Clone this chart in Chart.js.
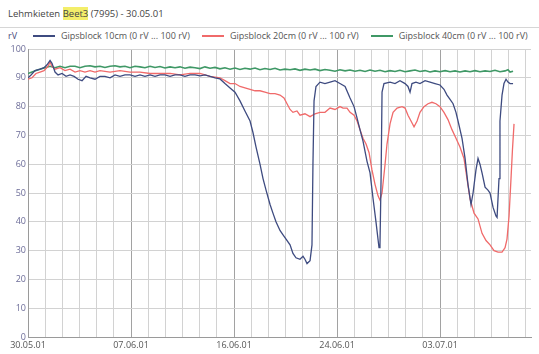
<!DOCTYPE html>
<html>
<head>
<meta charset="utf-8">
<script src="https://cdn.jsdelivr.net/npm/chart.js@4/dist/chart.umd.min.js"></script>
<style>
  html, body { margin: 0; padding: 0; background: #fff; }
  body { width: 539px; height: 354px; position: relative; overflow: hidden; font-family: "Open Sans", "Liberation Sans", sans-serif; }
  #title { position: absolute; left: 8px; top: 7px; font-size: 9.5px; color: #444; white-space: nowrap; }
  #title .hl { background: #f3ee6a; }
  #sep { position: absolute; left: 0; top: 27px; width: 539px; height: 1px; background: #d6d6d6; }
  #unit { position: absolute; left: 8px; top: 29px; font-size: 9px; color: #4a4a7a; }
  #legend { position: absolute; left: 33px; top: 29px; display: flex; font-size: 9px; color: #555; white-space: nowrap; }
  #legend .item { display: flex; align-items: center; margin-right: 12px; }
  #legend .sw { display: inline-block; width: 22px; height: 2px; margin-right: 6px; }
  #wrap { position: absolute; left: 0; top: 0; width: 539px; height: 354px; }
</style>
</head>
<body>
<div id="title">Lehmkieten <span class="hl">Beet3</span> (7995) - 30.05.01</div>
<div id="sep"></div>
<div id="unit">rV</div>
<div id="legend"></div>
<div id="wrap"><canvas id="c" width="539" height="354"></canvas></div>
<script>
// ---- data (x in days since 30.05.01 00:00, values in rV) ----
const seriesNames = ['Gipsblock 10cm (0 rV ... 100 rV)', 'Gipsblock 20cm (0 rV ... 100 rV)', 'Gipsblock 40cm (0 rV ... 100 rV)'];
const xTickLabels = ['30.05.01', '07.06.01', '16.06.01', '24.06.01', '03.07.01'];
const yTickValues = [0, 10, 20, 30, 40, 50, 60, 70, 80, 90, 100];

const blueDays = [0,0.25,0.58,0.99,1.32,1.57,1.82,1.98,2.23,2.48,
  2.81,3.14,3.47,3.80,4.13,4.46,4.79,5.12,5.53,5.94,
  6.35,6.77,7.18,7.59,8.00,8.42,8.83,9.24,9.65,10.07,
  10.48,10.89,11.30,11.72,12.13,12.54,12.95,13.37,13.78,14.19,
  14.60,15.02,15.43,15.84,16.25,16.67,17.08,17.49,17.90,18.32,
  18.56,18.81,19.14,19.39,19.64,19.97,20.21,20.46,20.79,21.04,
  21.29,21.62,21.86,22.11,22.44,22.69,22.85,23.02,23.27,23.43,
  23.51,23.60,23.76,24.09,24.50,24.92,25.33,25.74,26.16,26.57,
  26.90,27.15,27.39,27.64,27.97,28.22,28.47,28.71,28.96,29.04,
  29.13,29.21,29.37,29.87,30.28,30.69,31.11,31.35,31.52,31.68,
  32.01,32.34,32.76,33.17,33.58,33.99,34.32,34.57,34.82,35.07,
  35.31,35.48,35.81,36.06,36.30,36.55,36.72,36.96,37.13,37.29,
  37.46,37.71,37.95,38.12,38.37,38.61,38.70,38.86,38.94,39.11,
  39.27,39.44,39.60,39.77,40.02];
const blueValues = [90,91,92.5,93,93.5,94.5,96,95,92,91,
  91.5,90.5,91,90.5,89.5,89,90.5,90,89.5,90.5,
  90.5,90,91,90.5,91,91,90.5,91,90.5,91,
  90.5,91,91,90.5,91,91,90.5,91,91,90.7,
  91,90.5,90,89.6,88,86.5,85,82,78.5,75,
  71,66,60,55,51,46,43,40,37,35.5,
  34,32,29,27.5,27,28,27,25.5,26.5,32,
  60,82,87,88.5,88,88.5,89,88,87,83,
  80,76,72,68,61,57,48,40,31,32,
  55,85,88,88.5,88,89,88,87,85,88,
  88.5,88,89,88.5,88,87.5,86,84,82.5,81,
  78,75,69,62,53,46,50,58,62,60,
  57,52,51,50,45,42,41.5,55,75,84,
  88,89.5,88.5,88,88];

const redDays = [0,0.33,0.66,0.99,1.32,1.65,1.82,1.98,2.23,2.64,
  3.05,3.47,3.88,4.29,4.70,5.12,5.53,5.94,6.77,7.59,
  8.42,9.24,10.07,10.89,11.72,12.54,13.37,14.19,15.02,15.84,
  16.25,16.67,17.08,17.49,17.90,18.32,18.73,19.14,19.55,19.97,
  20.38,20.79,21.12,21.37,21.62,21.86,22.19,22.44,22.85,23.27,
  23.68,24.09,24.50,24.92,25.33,25.74,25.99,26.32,26.57,26.90,
  27.15,27.39,27.64,27.89,28.14,28.38,28.63,28.88,29.04,29.21,
  29.46,29.62,29.87,30.12,30.45,30.86,31.11,31.35,31.60,31.85,
  32.10,32.34,32.67,33.00,33.33,33.66,33.99,34.32,34.65,34.98,
  35.31,35.64,35.97,36.22,36.47,36.80,37.13,37.46,37.79,38.12,
  38.45,38.78,39.11,39.36,39.52,39.69,39.85,39.97,40.10];
const redValues = [89.5,90,91.5,92,92.5,94,95.5,94,93,93.5,
  92.5,93,92,92.5,92,92.5,92,92.5,92,92.5,
  92,92,91.5,91.5,91.5,91,91.5,91.5,90.5,90,
  89,88,88,87,86.5,86,85.5,85.5,85,84.5,
  84.5,84,83,81,79,78,78.5,77,77.5,76.5,
  77.5,78,78,79.5,79,80,79.5,79.5,78,77,
  75,72,69,67,64,58,53,49,47.5,50,
  60,67,74,78,79.5,80,79.5,77,75,73,
  75,78,80,81,81.5,81,80,78,75.5,72,
  69,66,62,55,48,43,41,36,33.5,32,
  30,29.5,29.5,31,34,42,55,65,74];

const greenDays = [0,0.33,0.66,0.99,1.40,1.82,2.23,2.64,3.05,3.47,
  3.88,4.29,4.70,5.12,5.53,5.94,6.35,6.77,7.18,7.59,
  8.00,8.42,8.83,9.24,9.65,10.07,10.48,10.89,11.30,11.72,
  12.13,12.54,12.95,13.37,13.78,14.19,14.60,15.02,15.43,15.84,
  16.25,16.67,17.08,17.49,17.90,18.32,18.73,19.14,19.55,19.97,
  20.38,20.79,21.20,21.62,22.03,22.44,22.85,23.27,23.68,24.09,
  24.50,24.92,25.33,25.74,26.16,26.57,26.98,27.39,27.81,28.22,
  28.63,29.04,29.46,29.87,30.28,30.69,31.11,31.52,31.93,32.34,
  32.76,33.17,33.58,33.99,34.41,34.82,35.23,35.64,36.06,36.47,
  36.88,37.29,37.71,38.12,38.53,38.94,39.36,39.60,39.77,40.02];
const greenValues = [91.5,92,92.5,93,93.5,94,93.5,94,93.5,94,
  94,93.5,94,94.2,93.8,94,93.6,94,94.2,93.8,
  94,93.5,94,93.8,93.5,94,93.6,93.9,93.4,93.8,
  93.5,93.8,93.3,93.7,93.5,93.2,93.8,93.3,93.6,93.1,
  93.5,93,93.4,92.9,93.3,93,93.4,92.8,93.2,92.9,
  93.3,92.7,93,92.8,93.1,92.6,93,92.7,93,92.5,
  92.9,92.6,92.3,92.8,92.4,92.7,92.3,92.6,92.2,92.7,
  92.3,92.6,92.1,92.5,92.2,92.6,92.1,92.4,92.7,92.2,
  92.5,92,92.4,92.1,92.5,92.1,92.4,92,92.4,92.1,
  92.5,92.1,92.4,92.2,92.6,92.1,92.4,92.8,92,92.3];

const colors = ['#3e4b80', '#f06a6a', '#3f9866'];
const MAJOR = 8.5;          // days between labelled ticks
const MINOR = MAJOR / 6;    // days between grid lines
const X_MAX = 41.5;

// legend (HTML text)
const legendEl = document.getElementById('legend');
seriesNames.forEach((n, i) => {
  const it = document.createElement('div');
  it.className = 'item';
  it.innerHTML = '<span class="sw" style="background:' + colors[i] + '"></span><span>' + n + '</span>';
  legendEl.appendChild(it);
});

function toPoints(days, vals) { return days.map((d, i) => ({ x: d, y: vals[i] })); }
function isMajor(v) { const k = v / MAJOR; return Math.abs(k - Math.round(k)) < 1e-6; }

new Chart(document.getElementById('c'), {
  type: 'line',
  data: {
    datasets: [
      { label: seriesNames[0], data: toPoints(blueDays, blueValues), borderColor: colors[0], borderWidth: 1.3 },
      { label: seriesNames[1], data: toPoints(redDays, redValues), borderColor: colors[1], borderWidth: 1.3 },
      { label: seriesNames[2], data: toPoints(greenDays, greenValues), borderColor: colors[2], borderWidth: 1.6 }
    ]
  },
  options: {
    responsive: false,
    animation: false,
    elements: { point: { radius: 0 }, line: { tension: 0 } },
    layout: { padding: { top: 49, right: 8, left: 0, bottom: 0 } },
    plugins: { legend: { display: false }, tooltip: { enabled: false }, title: { display: false } },
    scales: {
      x: {
        type: 'linear', min: 0, max: X_MAX,
        afterBuildTicks: (s) => {
          const t = [];
          for (let k = 0; k * MINOR <= X_MAX + 1e-9; k++) t.push({ value: k * MINOR });
          s.ticks = t;
        },
        afterFit: (s) => { s.height = 17; },
        ticks: {
          autoSkip: false, maxRotation: 0, padding: 3,
          color: '#555', font: { size: 9, family: '"Open Sans", "Liberation Sans", sans-serif' },
          callback: (v) => isMajor(v) ? (xTickLabels[Math.round(v / MAJOR)] || '') : ''
        },
        grid: {
          drawTicks: false,
          color: (ctx) => (ctx.tick && isMajor(ctx.tick.value)) ? '#a2a2a2' : '#d2d2d2',
          lineWidth: 1
        },
        border: { color: '#9a9a9a' }
      },
      y: {
        min: 0, max: 100,
        afterBuildTicks: (s) => { s.ticks = yTickValues.map(v => ({ value: v })); },
        afterFit: (s) => { s.width = 28; },
        ticks: {
          padding: 2, color: '#6c6c98',
          font: { size: 9, family: '"Open Sans", "Liberation Sans", sans-serif' }
        },
        grid: { drawTicks: false, color: '#d2d2d2' },
        border: { color: '#9a9a9a' }
      }
    }
  }
});
</script>
</body>
</html>
